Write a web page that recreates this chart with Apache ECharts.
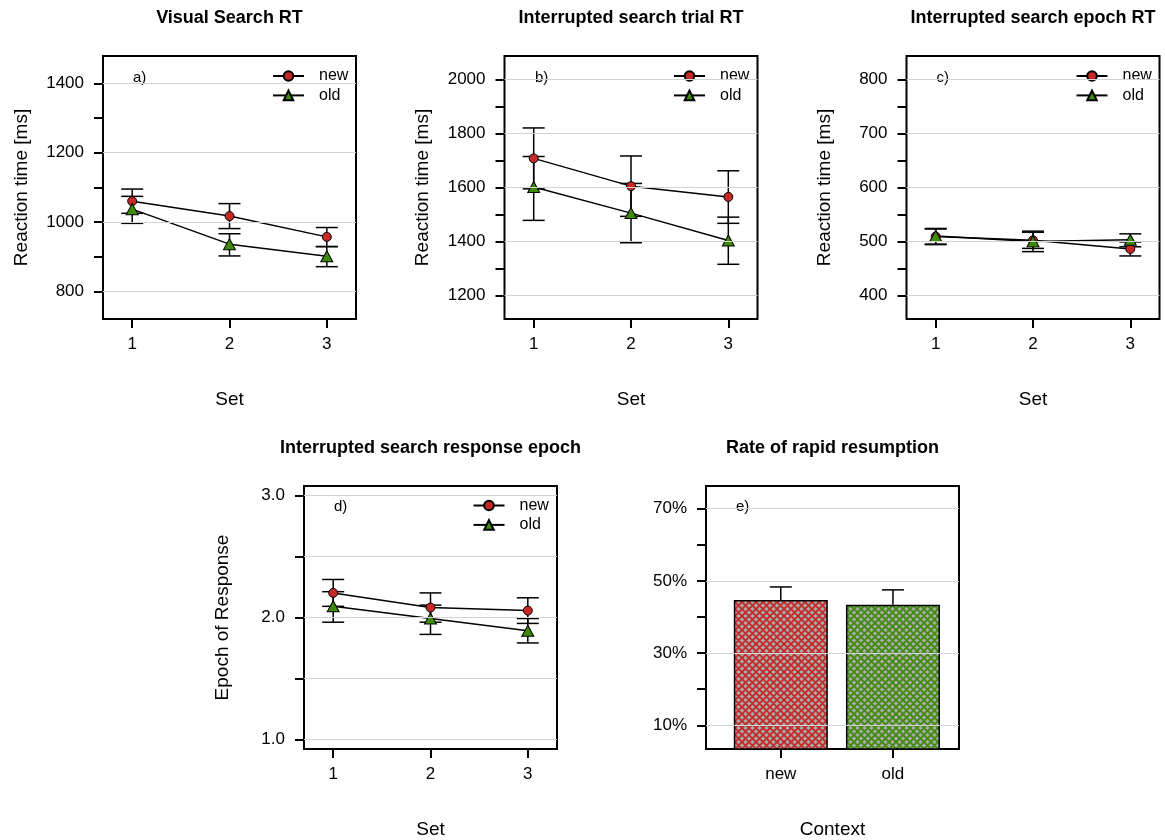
<!DOCTYPE html>
<html>
<head>
<meta charset="utf-8">
<title>Search RT panels</title>
<script src="https://cdn.jsdelivr.net/npm/echarts@6/dist/echarts.min.js"></script>
<style>
  html, body { margin: 0; padding: 0; background: #fff; }
  #main { width: 1165px; height: 840px; }
</style>
</head>
<body>
<div id="main"></div>
<script>
// x values of panels a-d
const sets = [1, 2, 3]

// a) visual search RT
const aNew = [1060, 1017, 957]
const aNewLo = [1025, 981, 929]
const aNewHi = [1095, 1053, 984]
const aOld = [1037, 936, 901]
const aOldLo = [996, 902, 871]
const aOldHi = [1074, 966, 929]

// b) interrupted search trial RT
const bNew = [1708, 1605, 1565]
const bNewLo = [1595, 1493, 1467]
const bNewHi = [1821, 1717, 1662]
const bOld = [1602, 1505, 1403]
const bOldLo = [1478, 1395, 1315]
const bOldHi = [1715, 1615, 1490]

// c) interrupted search epoch RT
const cNew = [509, 502, 486]
const cNewLo = [495, 487, 473]
const cNewHi = [523, 517, 499]
const cOld = [510, 500, 503]
const cOldLo = [494, 481, 490]
const cOldHi = [524, 519, 514]

// d) response epoch
const dNew = [2.20, 2.08, 2.055]
const dNewLo = [2.09, 1.96, 1.95]
const dNewHi = [2.31, 2.20, 2.16]
const dOld = [2.09, 1.99, 1.89]
const dOldLo = [1.96, 1.86, 1.79]
const dOldHi = [2.21, 2.10, 1.99]

// e) rate of rapid resumption (%)
const contexts = ['new', 'old']
const rate = [44.7, 43.4]
const rateHi = [48.3, 47.5]

// axis ticks / labels
const aTicks = [800, 900, 1000, 1100, 1200, 1300, 1400]
const aLabels = [800, 1000, 1200, 1400]
const bTicks = [1200, 1300, 1400, 1500, 1600, 1700, 1800, 1900, 2000]
const bLabels = [1200, 1400, 1600, 1800, 2000]
const cTicks = [400, 450, 500, 550, 600, 650, 700, 750, 800]
const cLabels = [400, 500, 600, 700, 800]
const dTicks = [1.0, 1.5, 2.0, 2.5, 3.0]
const dLabels = [1.0, 2.0, 3.0]
const eTicks = [10, 20, 30, 40, 50, 60, 70]
const eLabels = [10, 30, 50, 70]

const FONT = '"Liberation Sans", Arial, sans-serif'
const RED = '#c62828'
const GREEN = '#3d8b07'

let chart = echarts.init(document.getElementById('main'), null, { renderer: 'canvas' })

function pts(ys) {
  return sets.map((s, i) => [s, ys[i]])
}
function errs(lo, hi) {
  return sets.map((s, i) => [s, lo[i], hi[i], 1])
}

// vertical error bar with caps
function renderErr(params, api) {
  let x = api.value(0)
  let top = api.coord([x, api.value(2)])
  let bot = api.coord([x, api.value(1)])
  let w = 11
  let st = { stroke: '#000', lineWidth: 1.5 }
  let kids = [
    { type: 'line', shape: { x1: top[0], y1: top[1], x2: bot[0], y2: bot[1] }, style: st },
    { type: 'line', shape: { x1: top[0] - w, y1: top[1], x2: top[0] + w, y2: top[1] }, style: st }
  ]
  if (api.value(3)) {
    kids.push({ type: 'line', shape: { x1: bot[0] - w, y1: bot[1], x2: bot[0] + w, y2: bot[1] }, style: st })
  }
  return { type: 'group', children: kids }
}

// crosshatch tile for the bars
function hatch(col) {
  let n = 7
  let c = document.createElement('canvas')
  c.width = n
  c.height = n
  let g = c.getContext('2d')
  g.fillStyle = '#a9a9a9'
  g.fillRect(0, 0, n, n)
  g.strokeStyle = col
  g.lineWidth = 1.8
  g.beginPath()
  for (let k = -n; k <= n; k += n) {
    g.moveTo(k - 1, -1); g.lineTo(k + n + 1, n + 1)
    g.moveTo(k + n + 1, -1); g.lineTo(k - 1, n + 1)
  }
  g.stroke()
  return c
}

let axisText = { fontSize: 17, color: '#000', fontFamily: FONT }
let nameText = { fontSize: 19, color: '#000', fontFamily: FONT }
let tickStyle = { color: '#000', width: 2 }

function xAxisFor(i, min, max, vals, fmt, name) {
  return {
    gridIndex: i, type: 'value', min: min, max: max,
    name: name, nameLocation: 'middle', nameGap: 71, nameTextStyle: nameText,
    axisLine: { show: false }, splitLine: { show: false },
    axisTick: { show: true, length: 9, customValues: vals, lineStyle: tickStyle },
    axisLabel: Object.assign({ customValues: vals, margin: 17, formatter: fmt }, axisText)
  }
}

function yAxisFor(i, min, max, ticks, labels, fmt, name) {
  return {
    gridIndex: i, type: 'value', min: min, max: max,
    name: name, nameLocation: 'middle', nameGap: 72, nameTextStyle: nameText,
    axisLine: { show: false }, splitLine: { show: false },
    axisTick: { show: true, length: 9, customValues: ticks, lineStyle: tickStyle },
    axisLabel: Object.assign({ customValues: labels, margin: 19, formatter: fmt }, axisText)
  }
}

function gridLines(i, vals) {
  return {
    type: 'line', xAxisIndex: i, yAxisIndex: i, data: [], z: 1, silent: true,
    markLine: {
      silent: true, symbol: ['none', 'none'], animation: false,
      label: { show: false },
      lineStyle: { color: '#d3d3d3', width: 1, type: 'solid' },
      data: vals.map(v => ({ yAxis: v }))
    }
  }
}

function panel(i, yNew, loNew, hiNew, yOld, loOld, hiOld) {
  return [
    { type: 'custom', name: 'new-err', xAxisIndex: i, yAxisIndex: i, z: 2,
      renderItem: renderErr, encode: { x: 0, y: [1, 2] }, data: errs(loNew, hiNew) },
    { type: 'custom', name: 'old-err', xAxisIndex: i, yAxisIndex: i, z: 2,
      renderItem: renderErr, encode: { x: 0, y: [1, 2] }, data: errs(loOld, hiOld) },
    { type: 'line', name: 'new', xAxisIndex: i, yAxisIndex: i, z: 3,
      symbol: 'circle', symbolSize: 9, data: pts(yNew),
      lineStyle: { color: '#000', width: 1.5 },
      itemStyle: { color: RED, borderColor: '#000', borderWidth: 1 } },
    { type: 'line', name: 'old', xAxisIndex: i, yAxisIndex: i, z: 3,
      symbol: 'triangle', symbolSize: [12, 11], data: pts(yOld),
      lineStyle: { color: '#000', width: 1.5 },
      itemStyle: { color: GREEN, borderColor: '#000', borderWidth: 1 } }
  ]
}

function legendAt(left, top) {
  return {
    left: left, top: top, orient: 'vertical', padding: 0,
    data: ['new', 'old'], itemWidth: 31, itemHeight: 12, itemGap: 3.4,
    selectedMode: false,
    textStyle: { fontSize: 16, lineHeight: 16, color: '#000', fontFamily: FONT, padding: [0, 0, 0, 10] }
  }
}

function label(x, y, text, size, weight) {
  return {
    type: 'text', x: x, y: y, silent: true,
    style: { text: text, font: (weight || 'normal') + ' ' + size + 'px ' + FONT,
      fill: '#000', align: weight ? 'center' : 'left', verticalAlign: 'middle' }
  }
}

let boxStyle = { show: true, borderColor: '#000', borderWidth: 2, backgroundColor: 'transparent' }
let plain = v => String(v)
let pct = v => v + '%'
let oneDec = v => v.toFixed(1)

let option = {
  animation: false,
  grid: [
    Object.assign({ left: 103, top: 56, width: 253, height: 263 }, boxStyle),
    Object.assign({ left: 504.5, top: 56, width: 253, height: 263 }, boxStyle),
    Object.assign({ left: 906.5, top: 56, width: 253, height: 263 }, boxStyle),
    Object.assign({ left: 304, top: 486, width: 253, height: 263 }, boxStyle),
    Object.assign({ left: 706, top: 486, width: 253, height: 263 }, boxStyle)
  ],
  xAxis: [
    xAxisFor(0, 0.7, 3.3, sets, plain, 'Set'),
    xAxisFor(1, 0.7, 3.3, sets, plain, 'Set'),
    xAxisFor(2, 0.7, 3.3, sets, plain, 'Set'),
    xAxisFor(3, 0.7, 3.3, sets, plain, 'Set'),
    xAxisFor(4, 0.333, 2.589, [1, 2], v => contexts[Math.round(v) - 1], 'Context')
  ],
  yAxis: [
    yAxisFor(0, 720, 1479, aTicks, aLabels, plain, 'Reaction time [ms]'),
    yAxisFor(1, 1112, 2088, bTicks, bLabels, plain, 'Reaction time [ms]'),
    yAxisFor(2, 356, 844, cTicks, cLabels, plain, 'Reaction time [ms]'),
    yAxisFor(3, 0.921, 3.076, dTicks, dLabels, oneDec, 'Epoch of Response'),
    yAxisFor(4, 3.45, 76.25, eTicks, eLabels, pct, '')
  ],
  legend: [
    legendAt(272, 68),
    legendAt(673, 68),
    legendAt(1075.5, 68),
    legendAt(472.5, 497.5)
  ],
  graphic: [
    label(229.5, 18.5, 'Visual Search RT', 18, 'bold'),
    label(631, 18.5, 'Interrupted search trial RT', 18, 'bold'),
    label(1033, 18.5, 'Interrupted search epoch RT', 18, 'bold'),
    label(430.5, 448.5, 'Interrupted search response epoch', 18, 'bold'),
    label(832.5, 448.5, 'Rate of rapid resumption', 18, 'bold'),
    label(133, 77.5, 'a)', 15),
    label(535, 77.5, 'b)', 15),
    label(936.5, 77.5, 'c)', 15),
    label(334, 506.5, 'd)', 15),
    label(736, 507, 'e)', 15)
  ],
  series: [].concat(
    gridLines(0, aLabels),
    gridLines(1, bLabels),
    gridLines(2, cLabels),
    gridLines(3, dTicks),
    gridLines(4, eLabels),
    panel(0, aNew, aNewLo, aNewHi, aOld, aOldLo, aOldHi),
    panel(1, bNew, bNewLo, bNewHi, bOld, bOldLo, bOldHi),
    panel(2, cNew, cNewLo, cNewHi, cOld, cOldLo, cOldHi),
    panel(3, dNew, dNewLo, dNewHi, dOld, dOldLo, dOldHi),
    [
      { type: 'bar', name: 'rate', xAxisIndex: 4, yAxisIndex: 4, barWidth: 94, z: 2,
        data: contexts.map((c, i) => ({
          value: [i + 1, rate[i]],
          itemStyle: { color: { image: hatch([RED, GREEN][i]), repeat: 'repeat' }, borderColor: '#000', borderWidth: 1.5 }
        })) },
      { type: 'custom', name: 'rate-err', xAxisIndex: 4, yAxisIndex: 4, z: 1,
        renderItem: renderErr, encode: { x: 0, y: [1, 2] },
        data: contexts.map((c, i) => [i + 1, rate[i], rateHi[i], 0]) }
    ]
  )
}

chart.setOption(option)
</script>
</body>
</html>
